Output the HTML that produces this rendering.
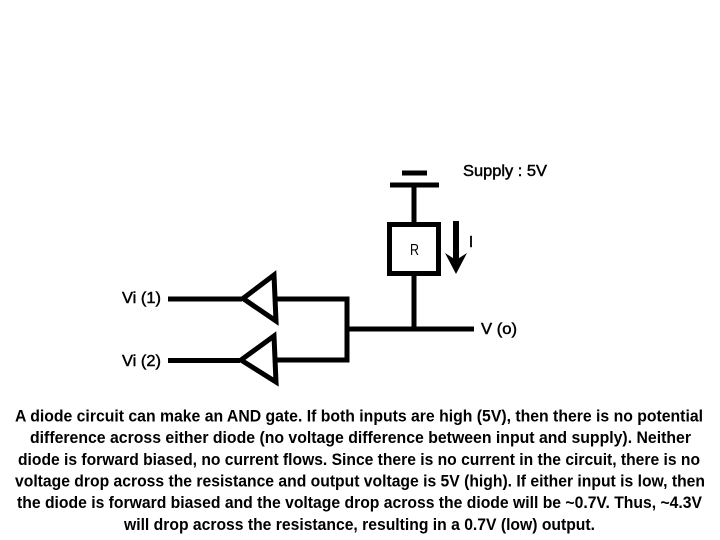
<!DOCTYPE html>
<html>
<head>
<meta charset="utf-8">
<style>
html,body{margin:0;padding:0;background:#fff;width:720px;height:540px;overflow:hidden}
svg{display:block}
text{font-family:"Liberation Sans",sans-serif;fill:#000}
.b{font-weight:bold;font-size:16.5px;stroke:none}
.l{font-size:15.5px;font-weight:normal;stroke:#000;stroke-width:.45px}
</style>
</head>
<body>
<svg width="720" height="540" viewBox="0 0 720 540" xmlns="http://www.w3.org/2000/svg">
<g fill="none" stroke="#000" stroke-width="5">
<path d="M402 173H427" />
<path d="M390 185H439" />
<path d="M414 185V222" />
<rect x="389.5" y="224.5" width="49" height="49"/>
<path d="M414 276V329" />
<path d="M347 329H474" />
<path d="M456 221V262" stroke-width="6"/>
<path d="M168 299H242" />
<path d="M168 360.5H240" />
<path d="M243 298.5L274 275L276 321Z" stroke-miterlimit="10"/>
<path d="M241 360L274 336L276 382Z" stroke-miterlimit="10"/>
<path d="M276 299H347" />
<path d="M276 360H349.5" />
<path d="M347 296.5V362" />
</g>
<path d="M445 253L456 260L467 253L456 274Z" fill="#000"/>
<text class="l" x="463" y="176" textLength="84" lengthAdjust="spacingAndGlyphs">Supply : 5V</text>
<text class="l" x="410" y="255" textLength="9" lengthAdjust="spacingAndGlyphs" style="stroke-width:0">R</text>
<text class="l" x="469" y="247" textLength="4" lengthAdjust="spacingAndGlyphs">I</text>
<text class="l" x="122" y="303" textLength="39" lengthAdjust="spacingAndGlyphs">Vi (1)</text>
<text class="l" x="122" y="366" textLength="39" lengthAdjust="spacingAndGlyphs">Vi (2)</text>
<text class="l" x="481" y="334" textLength="36" lengthAdjust="spacingAndGlyphs">V (o)</text>
<text class="b" x="15" y="421.5" textLength="688" lengthAdjust="spacingAndGlyphs">A diode circuit can make an AND gate. If both inputs are high (5V), then there is no potential</text>
<text class="b" x="30" y="443" textLength="661" lengthAdjust="spacingAndGlyphs">difference across either diode (no voltage difference between input and supply). Neither</text>
<text class="b" x="18" y="465" textLength="682" lengthAdjust="spacingAndGlyphs">diode is forward biased, no current flows. Since there is no current in the circuit, there is no</text>
<text class="b" x="15" y="486.5" textLength="690" lengthAdjust="spacingAndGlyphs">voltage drop across the resistance and output voltage is 5V (high). If either input is low, then</text>
<text class="b" x="17" y="508" textLength="685" lengthAdjust="spacingAndGlyphs">the diode is forward biased and the voltage drop across the diode will be ~0.7V. Thus, ~4.3V</text>
<text class="b" x="124" y="530" textLength="471" lengthAdjust="spacingAndGlyphs">will drop across the resistance, resulting in a 0.7V (low) output.</text>
</svg>
</body>
</html>
